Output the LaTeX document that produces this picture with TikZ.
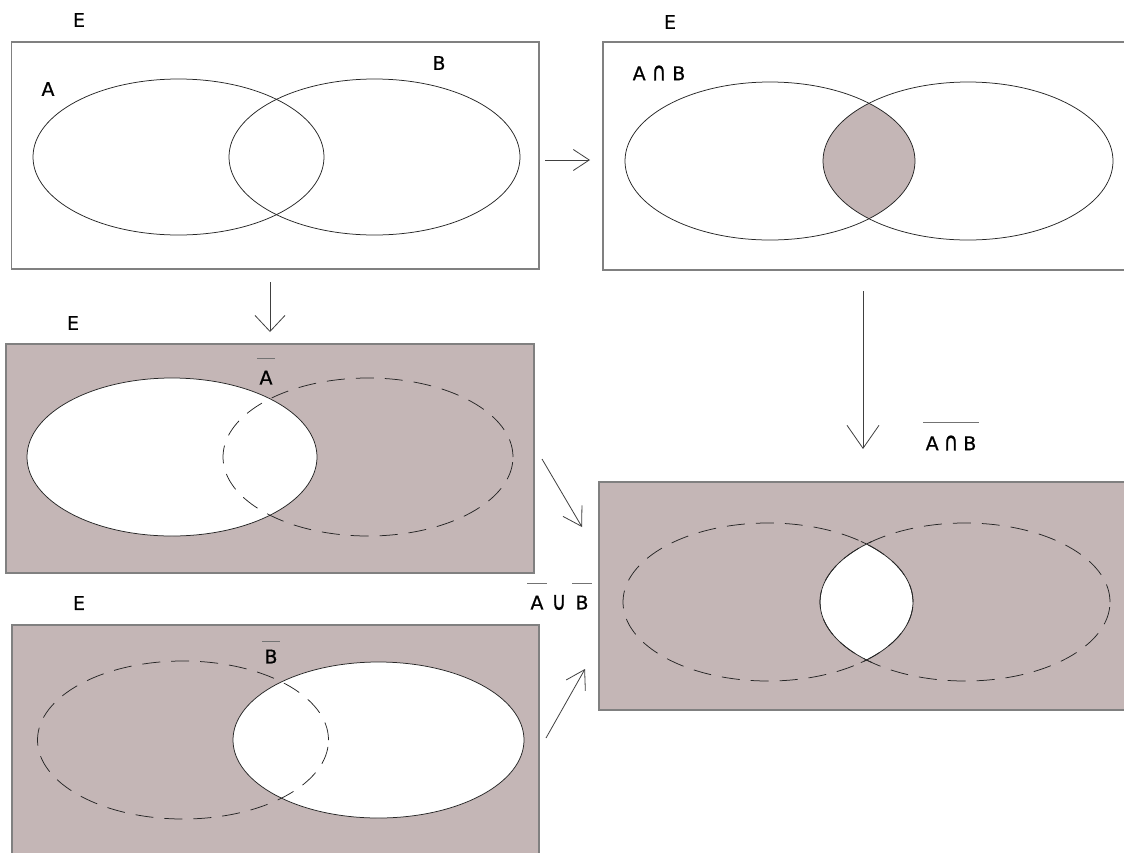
\documentclass[tikz,border=0pt]{standalone}
\usepackage{fontspec}
\usepackage{graphicx}
\setmainfont{DejaVu Sans}
\newfontfamily\lblfont[FakeBold=0.7]{DejaVu Sans}
\usetikzlibrary{arrows.meta}
\definecolor{vennfill}{RGB}{196,182,182}
\definecolor{frame}{RGB}{128,128,128}
\newcommand{\mycap}{\raisebox{-0.2pt}{\scalebox{1.05}[1.35]{∩}}}
\newcommand{\mycup}{\raisebox{-0.2pt}{\scalebox{1.05}[1.35]{∪}}}
\begin{document}
\begin{tikzpicture}[x=1pt,y=-1pt,
  panel/.style={draw=frame,line width=1.5pt,rectangle,inner sep=0pt,outer sep=0pt,anchor=north west},
  ell/.style={draw=black!85,line width=0.75pt},
  dashell/.style={ell,dash pattern=on 18pt off 11pt},
  lbl/.style={font=\lblfont\fontsize{19}{22}\selectfont,inner sep=0pt,text=black},
  barline/.style={draw=black!55,line width=1.6pt},
  arr/.style={draw=black!75,line width=0.8pt},
  er/.style={x radius=145pt,y radius=79pt}
]
\clip (0,0) rectangle (1124,852);
\fill[white] (0,0) rectangle (1124,852);

% ---------- panel 1 ----------
\node[panel,minimum width=527.5pt,minimum height=227pt] (p1) at (11.5,42) {};
\draw[ell] (178.5,157) ellipse [x radius=145.5pt,y radius=78pt];
\draw[ell] (374.5,157) ellipse [x radius=145.5pt,y radius=78pt];
\node[lbl] (e1) at (79,20) {E};
\node[lbl] (la) at (48,89) {A};
\node[lbl] (lb) at (439,63) {B};

% ---------- panel 2 ----------
\node[panel,minimum width=540pt,minimum height=228pt] (p2) at (603,42) {};
\begin{scope}
  \clip (770,161) ellipse [er];
  \fill[vennfill] (968,161) ellipse [er];
\end{scope}
\draw[ell] (770,161) ellipse [er];
\draw[ell] (968,161) ellipse [er];
\node[lbl] (e2) at (670,22) {E};
\node[lbl] (lab) at (659,73) {A\hspace{6pt}\mycap\hspace{6pt}B};

% ---------- panel 3 ----------
\node[panel,fill=vennfill,minimum width=528pt,minimum height=229pt] (p3) at (6,344) {};
\draw[ell,fill=white] (172,457) ellipse [er];
\draw[dashell] (368,457) ellipse [er];
\node[lbl] (e3) at (73,323) {E};
\node[lbl] (na) at (266,377.5) {A};
\draw[barline] ([xshift=-2pt,yshift=12pt]na.north west) -- ([xshift=2pt,yshift=12pt]na.north east);

% ---------- panel 4 ----------
\node[panel,fill=vennfill,minimum width=527pt,minimum height=240pt] (p4) at (12,625) {};
\fill[white] (378.5,740) ellipse [x radius=145.5pt,y radius=78pt];
\draw[dashell] (183,740) ellipse [x radius=145.5pt,y radius=79pt];
\draw[ell] (378.5,740) ellipse [x radius=145.5pt,y radius=78pt];
\node[lbl] (e4) at (79,603) {E};
\node[lbl] (nb) at (271,656.5) {B};
\draw[barline] ([xshift=-2pt,yshift=8pt]nb.north west) -- ([xshift=2pt,yshift=8pt]nb.north east);

% ---------- panel 5 ----------
\node[panel,fill=vennfill,minimum width=540pt,minimum height=228pt] (p5) at (599,482) {};
\begin{scope}
  \clip (768,602) ellipse [er];
  \fill[white] (965,602) ellipse [er];
\end{scope}
\draw[dashell] (768,602) ellipse [er];
\draw[dashell] (965,602) ellipse [er];
\begin{scope}
  \clip (768,602) ellipse [x radius=150pt,y radius=84pt];
  \draw[ell] (965,602) ellipse [er];
\end{scope}
\begin{scope}
  \clip (965,602) ellipse [x radius=150pt,y radius=84pt];
  \draw[ell] (768,602) ellipse [er];
\end{scope}

% ---------- labels between panels ----------
\node[lbl] (ua) at (537,602.5) {A};
\node[lbl] (uu) at (559,602.5) {\mycup};
\node[lbl] (ub) at (582,602.5) {B};
\draw[barline] ([xshift=-3pt,yshift=12pt]ua.north west) -- ([xshift=3pt,yshift=12pt]ua.north east);
\draw[barline] ([xshift=-3pt,yshift=12pt]ub.north west) -- ([xshift=3pt,yshift=12pt]ub.north east);

\node[lbl] (ncap) at (951,443) {A\hspace{5pt}\mycap\hspace{5pt}B};
\draw[barline] ([xshift=-2pt,yshift=13pt]ncap.north west) -- ([xshift=2pt,yshift=13pt]ncap.north east);

% ---------- arrows ----------
\coordinate (a1s) at (545,160);
\coordinate (a1e) at (590,160);
\draw[arr,-{Straight Barb[length=16pt,width=21pt]}] (a1s) -- (a1e);

\coordinate (a2s) at (270,282);
\coordinate (a2e) at (270,332);
\draw[arr,-{Straight Barb[length=16pt,width=30pt]}] (a2s) -- (a2e);

\coordinate (a3s) at (542,459);
\coordinate (a3e) at (582,527);
\draw[arr,-{Straight Barb[length=18pt,width=22pt]}] (a3s) -- (a3e);

\coordinate (a4s) at (546,738);
\coordinate (a4e) at (585,669);
\draw[arr,-{Straight Barb[length=18pt,width=22pt]}] (a4s) -- (a4e);

\coordinate (a5s) at (863,291);
\coordinate (a5e) at (863,449);
\draw[arr,-{Straight Barb[length=23pt,width=32pt]}] (a5s) -- (a5e);
\end{tikzpicture}
\end{document}
